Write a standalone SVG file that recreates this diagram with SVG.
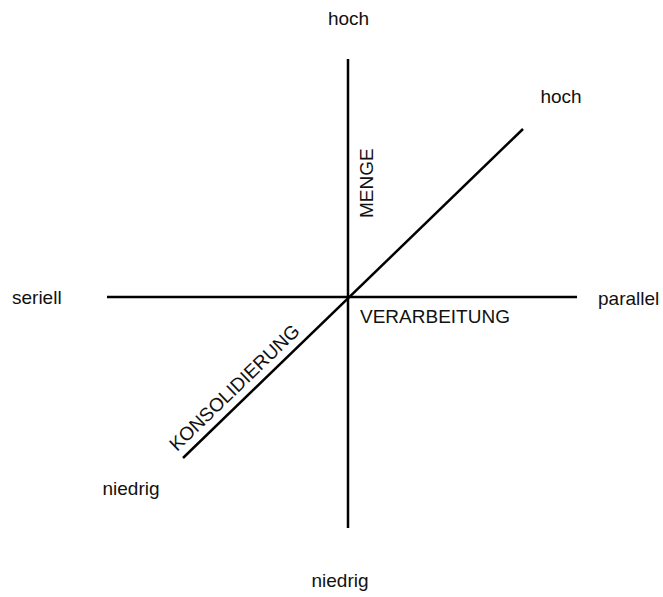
<svg xmlns="http://www.w3.org/2000/svg" width="663" height="597" viewBox="0 0 663 597">
<style>
.ax{stroke:#000;stroke-width:2.5;fill:none}
.t{font-family:"Liberation Sans",Arial,sans-serif;font-size:19px;fill:#111}
</style>
<rect width="663" height="597" fill="#fff"/>
<g id="connectors">
<line class="ax" x1="348" y1="59" x2="348" y2="528"/>
<line class="ax" x1="107" y1="297" x2="577" y2="297"/>
<line class="ax" x1="183" y1="458" x2="523" y2="129"/>
</g>
<g id="labels">
<text class="t" x="348.5" y="25" text-anchor="middle">hoch</text>
<text class="t" x="561" y="103" text-anchor="middle">hoch</text>
<text class="t" x="12" y="304">seriell</text>
<text class="t" x="598" y="305">parallel</text>
<text class="t" x="340" y="587" text-anchor="middle">niedrig</text>
<text class="t" x="131" y="495" text-anchor="middle">niedrig</text>
<text class="t" x="360" y="323">VERARBEITUNG</text>
<text class="t" transform="translate(373,218) rotate(-90)">MENGE</text>
<text class="t" transform="translate(177,452) rotate(-44)">KONSOLIDIERUNG</text>
</g>
</svg>
